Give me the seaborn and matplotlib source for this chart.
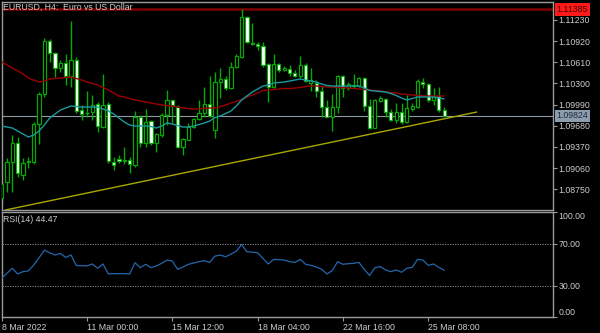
import numpy as np
import pandas as pd
import matplotlib
matplotlib.use("Agg")
import matplotlib.pyplot as plt
from matplotlib.transforms import blended_transform_factory
import seaborn as sns

# ---------------- data (EURUSD H4) ----------------
opens = [1.08622, 1.08857, 1.09150, 1.09428, 1.08959, 1.09150, 1.09150, 1.09706, 1.10146, 1.10922,
         1.10747, 1.10527, 1.10600, 1.10410, 1.10644, 1.09911, 1.09868, 1.09882, 1.09999, 1.09662,
         1.09999, 1.09150, 1.09194, 1.09179, 1.09179, 1.09106, 1.09809, 1.09428, 1.09750, 1.09428,
         1.09545, 1.09838, 1.10058, 1.09955, 1.09369, 1.09472, 1.09662, 1.09780, 1.09868, 1.09999,
         1.09618, 1.10322, 1.10366, 1.10234, 1.10541, 1.10688, 1.11274, 1.10893, 1.10878, 1.10849,
         1.10585, 1.10248, 1.10585, 1.10497, 1.10512, 1.10454, 1.10410, 1.10571, 1.10307, 1.10307,
         1.10190, 1.09955, 1.09809, 1.09955, 1.10410, 1.10234, 1.10278, 1.10263, 1.10380, 1.09970,
         1.09648, 1.10043, 1.10073, 1.09882, 1.09765, 1.09882, 1.09736, 1.09926, 1.09955, 1.10322,
         1.10292, 1.10058, 1.10117, 1.09911]
highs = [1.08857, 1.09208, 1.09545, 1.09516, 1.09208, 1.09223, 1.09736, 1.10175, 1.10966, 1.10952,
         1.10761, 1.10644, 1.10732, 1.11215, 1.10688, 1.09985, 1.10190, 1.10131, 1.10029, 1.10439,
         1.10029, 1.09223, 1.09252, 1.09369, 1.09223, 1.09897, 1.09838, 1.09926, 1.09765, 1.09575,
         1.09868, 1.10204, 1.10058, 1.09985, 1.09501, 1.09721, 1.09794, 1.10058, 1.10248, 1.10410,
         1.10468, 1.10527, 1.10410, 1.10615, 1.10732, 1.11391, 1.11289, 1.11186, 1.10908, 1.10908,
         1.10600, 1.10732, 1.10600, 1.10556, 1.10571, 1.10497, 1.10703, 1.10600, 1.10527, 1.10351,
         1.10263, 1.10058, 1.10146, 1.10424, 1.10424, 1.10322, 1.10439, 1.10395, 1.10395, 1.10073,
         1.10073, 1.10117, 1.10087, 1.09926, 1.10014, 1.10014, 1.10131, 1.10014, 1.10366, 1.10380,
         1.10307, 1.10234, 1.10248, 1.09955]
lows = [1.08564, 1.08710, 1.08710, 1.08930, 1.08886, 1.09062, 1.09120, 1.09413, 1.10102, 1.10615,
        1.10395, 1.10468, 1.10278, 1.10248, 1.09868, 1.09765, 1.09809, 1.09765, 1.09589, 1.09648,
        1.09135, 1.09032, 1.09135, 1.09120, 1.08989, 1.09076, 1.09369, 1.09369, 1.09399, 1.09296,
        1.09516, 1.09692, 1.09721, 1.09355, 1.09252, 1.09472, 1.09648, 1.09765, 1.09809, 1.09809,
        1.09501, 1.10087, 1.10204, 1.10219, 1.10527, 1.10673, 1.10893, 1.10864, 1.10790, 1.10541,
        1.10029, 1.10234, 1.10468, 1.10483, 1.10410, 1.10395, 1.10380, 1.10322, 1.10190, 1.10102,
        1.09809, 1.09809, 1.09604, 1.09868, 1.10102, 1.10204, 1.10234, 1.10248, 1.09897, 1.09633,
        1.09648, 1.10029, 1.09809, 1.09750, 1.09721, 1.09706, 1.09721, 1.09897, 1.09941, 1.10234,
        1.10029, 1.09985, 1.09882, 1.09809]
closes = [1.08827, 1.09150, 1.09428, 1.08989, 1.09135, 1.09164, 1.09706, 1.10146, 1.10922, 1.10747,
          1.10527, 1.10600, 1.10410, 1.10644, 1.09897, 1.09853, 1.09875, 1.09985, 1.09677, 1.09985,
          1.09164, 1.09106, 1.09164, 1.09164, 1.09120, 1.09809, 1.09428, 1.09736, 1.09428, 1.09560,
          1.09838, 1.10058, 1.09985, 1.09369, 1.09487, 1.09662, 1.09780, 1.09868, 1.09999, 1.09824,
          1.10322, 1.10366, 1.10234, 1.10541, 1.10703, 1.11274, 1.10908, 1.10878, 1.10849, 1.10571,
          1.10248, 1.10585, 1.10497, 1.10527, 1.10454, 1.10410, 1.10571, 1.10336, 1.10351, 1.10190,
          1.09955, 1.09809, 1.09955, 1.10410, 1.10234, 1.10292, 1.10263, 1.10380, 1.09970, 1.09648,
          1.10058, 1.10087, 1.09882, 1.09765, 1.09882, 1.09736, 1.09941, 1.09970, 1.10336, 1.10292,
          1.10058, 1.10117, 1.09911, 1.09824]
ma_slow = [1.10615, 1.10571, 1.10527, 1.10483, 1.10439, 1.10380, 1.10351, 1.10322, 1.10336, 1.10366,
           1.10373, 1.10380, 1.10388, 1.10395, 1.10373, 1.10351, 1.10322, 1.10300, 1.10278, 1.10241,
           1.10204, 1.10161, 1.10117, 1.10102, 1.10080, 1.10058, 1.10043, 1.10029, 1.10014, 1.09999,
           1.09985, 1.09977, 1.09970, 1.09955, 1.09941, 1.09934, 1.09926, 1.09926, 1.09934, 1.09941,
           1.09941, 1.09963, 1.09985, 1.10014, 1.10036, 1.10065, 1.10102, 1.10131, 1.10161, 1.10197,
           1.10204, 1.10212, 1.10219, 1.10226, 1.10226, 1.10234, 1.10241, 1.10256, 1.10263, 1.10263,
           1.10256, 1.10248, 1.10248, 1.10241, 1.10241, 1.10234, 1.10226, 1.10219, 1.10212, 1.10204,
           1.10197, 1.10190, 1.10175, 1.10168, 1.10161, 1.10146, 1.10139, 1.10131, 1.10124, 1.10117,
           1.10117, 1.10117, 1.10117, 1.10117]
ma_fast = [1.09677, 1.09662, 1.09648, 1.09604, 1.09560, 1.09516, 1.09545, 1.09604, 1.09692, 1.09794,
           1.09853, 1.09911, 1.09941, 1.09970, 1.09963, 1.09955, 1.09955, 1.09955, 1.09955, 1.09926,
           1.09897, 1.09853, 1.09794, 1.09736, 1.09692, 1.09677, 1.09677, 1.09677, 1.09670, 1.09648,
           1.09677, 1.09721, 1.09706, 1.09684, 1.09662, 1.09662, 1.09677, 1.09699, 1.09721, 1.09750,
           1.09802, 1.09824, 1.09860, 1.09897, 1.09970, 1.10058, 1.10117, 1.10175, 1.10219, 1.10263,
           1.10278, 1.10307, 1.10314, 1.10322, 1.10336, 1.10351, 1.10366, 1.10351, 1.10336, 1.10322,
           1.10292, 1.10270, 1.10263, 1.10263, 1.10263, 1.10263, 1.10263, 1.10263, 1.10234, 1.10197,
           1.10190, 1.10182, 1.10175, 1.10153, 1.10124, 1.10087, 1.10058, 1.10080, 1.10102, 1.10102,
           1.10102, 1.10102, 1.10087, 1.10073]
rsi = [36.9, 41.7, 46.4, 41.0, 43.2, 43.9, 49.5, 56.4, 63.7, 61.2,
       59.0, 60.5, 56.8, 59.0, 48.9, 48.9, 48.6, 50.5, 46.4, 50.5,
       41.0, 41.3, 41.3, 41.3, 41.0, 51.7, 47.0, 50.2, 47.0, 48.6,
       51.1, 54.2, 53.3, 45.4, 47.6, 50.2, 51.4, 52.7, 53.6, 52.0,
       58.0, 59.0, 57.4, 59.9, 62.7, 69.0, 62.1, 61.8, 61.2, 55.8,
       50.5, 54.9, 54.6, 54.2, 52.7, 52.0, 54.9, 50.2, 49.2, 47.6,
       45.4, 41.0, 44.2, 52.7, 50.2, 50.8, 51.1, 52.0, 45.4, 39.5,
       47.0, 48.0, 44.8, 43.2, 44.8, 42.6, 46.4, 47.3, 54.9, 54.2,
       49.2, 50.5, 47.3, 44.47]

time_ticks = [0, 16, 32, 48, 64, 80]
time_labels = ["8 Mar 2022", "11 Mar 00:00", "15 Mar 12:00",
               "18 Mar 04:00", "22 Mar 16:00", "25 Mar 08:00"]
price_ticks = [1.11230, 1.10920, 1.10610, 1.10300, 1.09990,
               1.09680, 1.09370, 1.09060, 1.08750]
rsi_ticks = [0, 30, 70, 100]
rsi_levels = [30, 70]
resistance = 1.11385
last_price = 1.09824
trend_x = [0.7, 89.1]
trend_y = [1.08447, 1.09882]

df = pd.DataFrame({"bar": np.arange(len(opens)), "open": opens, "high": highs,
                   "low": lows, "close": closes, "ma_slow": ma_slow,
                   "ma_fast": ma_fast, "rsi": rsi})

# ---------------- style ----------------
sns.set_theme(style="dark", rc={"axes.facecolor": "black", "figure.facecolor": "black",
                                "axes.edgecolor": "#9a9a9a", "axes.grid": False})
plt.rcParams["font.family"] = ["Liberation Sans", "DejaVu Sans"]
TXT = "#cccccc"
GREEN = "#00ad00"
FS = 6.3

W, H = 600, 333
fig = plt.figure(figsize=(6, 3.33), dpi=100, facecolor="black")


def box(l, t, r, b):
    return [l / W, 1 - b / H, (r - l) / W, (b - t) / H]


ax = fig.add_axes(box(1.7, 1.7, 553, 210))
ax2 = fig.add_axes(box(1.7, 212, 553, 317))
for a in (ax, ax2):
    a.set_facecolor("black")
    for s in a.spines.values():
        s.set_color("#9a9a9a")
        s.set_linewidth(1.0)
    a.set_xlim(0, 103.4)

# ---------------- candles ----------------
ax.vlines(df["bar"], df["low"], df["high"], color=GREEN, lw=1.0, zorder=2)
bull = df["close"] >= df["open"]
bottoms = np.minimum(df["open"], df["close"])
heights = np.maximum(np.abs(df["close"] - df["open"]), 0.00002)
ax.bar(df["bar"], heights, bottom=bottoms, width=0.58,
       color=np.where(bull, "black", "white"), edgecolor=GREEN, linewidth=0.85, zorder=3)

# moving averages and lines
sns.lineplot(data=df, x="bar", y="ma_slow", ax=ax, color="#9a0000", lw=1.0, zorder=4)
sns.lineplot(data=df, x="bar", y="ma_fast", ax=ax, color="#1a9a9e", lw=1.0, zorder=4)
sns.lineplot(x=trend_x, y=trend_y, ax=ax, color="#a8a800", lw=1.0, zorder=4)
ax.axhline(resistance, color="#800000", lw=1.8, zorder=1)
ax.axhline(last_price, color="#8f99a3", lw=0.8, zorder=1)

ax.set_ylim(1.08447, 1.11498)
ax.set_xticks([])
ax.set_xlabel("")
ax.set_ylabel("")
ax.yaxis.tick_right()
ax.set_yticks(price_ticks, [f"{p:.5f}" for p in price_ticks])
ax.tick_params(axis="y", right=True, left=False, labelright=True, labelleft=False,
               length=3, width=0.8, pad=1, color="#9a9a9a", labelcolor=TXT, labelsize=FS)

tr = blended_transform_factory(ax.transAxes, ax.transData)
ax.text(1.0 + 3.5 / 551.3, resistance, f"{resistance:.5f}", transform=tr, clip_on=False,
        color="#4a0000", fontsize=FS, va="center", ha="left",
        bbox=dict(boxstyle="square,pad=0.2", fc="#ff1a1a", ec="none"))
ax.text(1.0 + 3.5 / 551.3, last_price, f"{last_price:.5f}", transform=tr, clip_on=False,
        color="#1e2a36", fontsize=FS, va="center", ha="left",
        bbox=dict(boxstyle="square,pad=0.2", fc="#8d9db0", ec="none"))

# ---------------- RSI ----------------
sns.lineplot(data=df, x="bar", y="rsi", ax=ax2, color="#2466ac", lw=0.9, zorder=3)
for lv in rsi_levels:
    ax2.axhline(lv, color="#9a9a9a", lw=0.6, ls=(0, (1.5, 1.5)), zorder=1)
ax2.set_ylim(0, 100)
ax2.set_xlabel("")
ax2.set_ylabel("")
ax2.yaxis.tick_right()
ax2.set_yticks(rsi_ticks, [f"{v:.2f}" for v in rsi_ticks])
ax2.tick_params(axis="y", right=True, left=False, labelright=True, labelleft=False,
                length=3, width=0.8, pad=1, color="#9a9a9a", labelcolor=TXT, labelsize=FS)
for lbl, v in zip(ax2.get_yticklabels(), rsi_ticks):
    if v == 100:
        lbl.set_va("top")
    elif v == 0:
        lbl.set_va("bottom")
ax2.set_xticks(time_ticks, time_labels)
ax2.tick_params(axis="x", bottom=True, length=3, width=0.8, pad=1.5,
                color="#9a9a9a", labelcolor=TXT, labelsize=FS)
for lbl in ax2.get_xticklabels():
    lbl.set_ha("left")

fig.text(3 / W, 1 - 7.5 / H, "EURUSD, H4:  Euro vs US Dollar", color=TXT,
         fontsize=FS, va="center", ha="left")
fig.text(3 / W, 1 - 219.5 / H, f"RSI(14) {rsi[-1]:.2f}", color=TXT,
         fontsize=FS, va="center", ha="left")

fig.savefig("out.png", dpi=100, facecolor="black")
